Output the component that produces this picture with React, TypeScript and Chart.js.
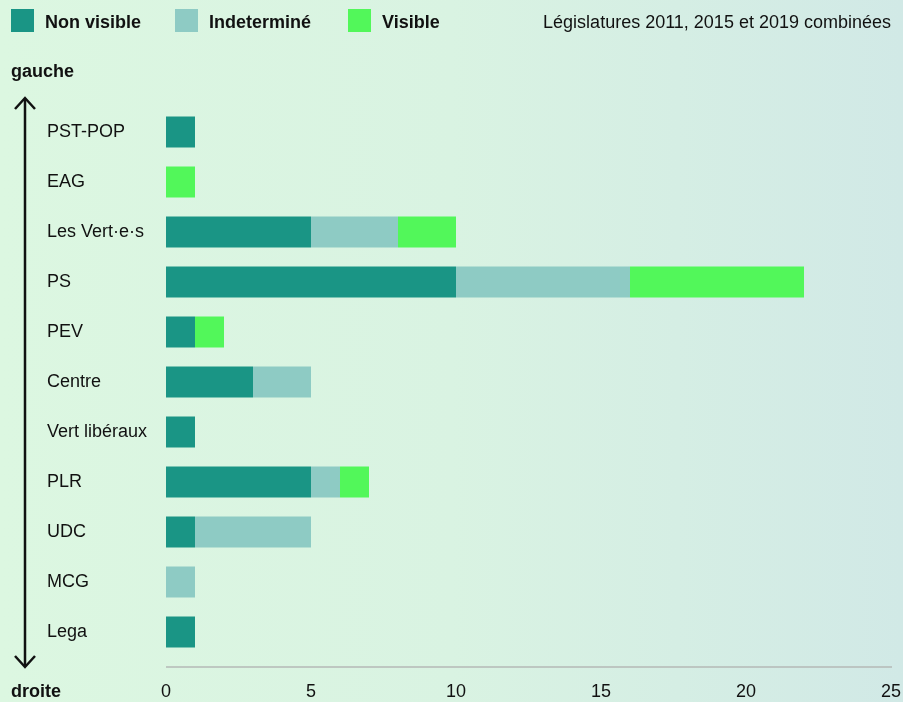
import React, { useEffect, useRef } from "react";
import { Chart, registerables } from "chart.js";

Chart.register(...registerables);

const categories = [
  "PST-POP",
  "EAG",
  "Les Vert·e·s",
  "PS",
  "PEV",
  "Centre",
  "Vert libéraux",
  "PLR",
  "UDC",
  "MCG",
  "Lega",
];
const nonVisible = [1, 0, 5, 10, 1, 3, 1, 5, 1, 0, 1];
const indetermine = [0, 0, 3, 6, 0, 2, 0, 1, 4, 1, 0];
const visible = [0, 1, 2, 6, 1, 0, 0, 1, 0, 0, 0];
const seriesNames = ["Non visible", "Indeterminé", "Visible"];
const seriesColors = ["#1a9585", "#8ecbc4", "#52f75a"];
const xTicks = [0, 5, 10, 15, 20, 25];
const titleText = "Législatures 2011, 2015 et 2019 combinées";
const topLabel = "gauche";
const bottomLabel = "droite";

const FONT = 'Helvetica, "Liberation Sans", Arial, sans-serif';
const TEXT = "#111111";

const overlay = {
  id: "overlay",
  afterDraw(chart: any) {
    const ctx = chart.ctx;
    const area = chart.chartArea;
    ctx.save();
    // legend
    const boxX = [11, 175, 348];
    ctx.font = `bold 18px ${FONT}`;
    ctx.textBaseline = "alphabetic";
    ctx.textAlign = "left";
    seriesNames.forEach((n, i) => {
      ctx.fillStyle = seriesColors[i];
      ctx.fillRect(boxX[i], 9, 23, 23);
      ctx.fillStyle = TEXT;
      ctx.fillText(n, boxX[i] + 34, 28);
    });
    // title
    ctx.font = `18px ${FONT}`;
    ctx.textAlign = "right";
    ctx.fillText(titleText, 891, 28);
    // gauche / droite
    ctx.font = `bold 18px ${FONT}`;
    ctx.textAlign = "left";
    ctx.fillText(topLabel, 11, 77);
    ctx.fillText(bottomLabel, 11, 697);
    // arrow
    ctx.strokeStyle = TEXT;
    ctx.lineWidth = 2.5;
    ctx.lineCap = "butt";
    ctx.lineJoin = "miter";
    ctx.beginPath();
    ctx.moveTo(25, 99);
    ctx.lineTo(25, 666);
    ctx.stroke();
    ctx.beginPath();
    ctx.moveTo(15, 109);
    ctx.lineTo(25, 98);
    ctx.lineTo(35, 109);
    ctx.stroke();
    ctx.beginPath();
    ctx.moveTo(15, 656);
    ctx.lineTo(25, 667);
    ctx.lineTo(35, 656);
    ctx.stroke();
    // x axis line
    ctx.strokeStyle = "#b4b8b6";
    ctx.lineWidth = 1.5;
    ctx.beginPath();
    ctx.moveTo(area.left, area.bottom + 10);
    ctx.lineTo(area.right + 1, area.bottom + 10);
    ctx.stroke();
    ctx.restore();
  },
};

export default function App() {
  const ref = useRef<HTMLCanvasElement | null>(null);
  useEffect(() => {
    if (!ref.current) return;
    const chart = new Chart(ref.current, {
      type: "bar",
      data: {
        labels: categories,
        datasets: [nonVisible, indetermine, visible].map((d, i) => ({
          label: seriesNames[i],
          data: d,
          backgroundColor: seriesColors[i],
          borderWidth: 0,
          categoryPercentage: 1,
          barPercentage: 0.62,
        })),
      },
      options: {
        indexAxis: "y",
        responsive: false,
        animation: false,
        layout: { padding: { left: 47, right: 12, top: 107, bottom: 0 } },
        plugins: {
          legend: { display: false },
          title: { display: false },
          tooltip: { enabled: false },
        },
        scales: {
          x: {
            stacked: true,
            min: 0,
            max: 25,
            grid: { display: false, drawTicks: false },
            border: { display: false },
            afterBuildTicks: (scale: any) => {
              scale.ticks = xTicks.map((v) => ({ value: v }));
            },
            afterFit: (scale: any) => {
              scale.height = 45;
              scale.paddingLeft = 0;
              scale.paddingRight = 0;
            },
            ticks: {
              padding: 24,
              color: TEXT,
              font: { family: FONT, size: 18 },
              maxRotation: 0,
            },
          },
          y: {
            stacked: true,
            grid: { display: false, drawTicks: false },
            border: { display: false },
            afterFit: (scale: any) => {
              scale.width = 119;
              scale.paddingTop = 0;
              scale.paddingBottom = 0;
            },
            ticks: {
              crossAlign: "far",
              color: TEXT,
              font: { family: FONT, size: 18 },
            },
          },
        },
      },
      plugins: [overlay],
    });
    return () => chart.destroy();
  }, []);
  return (
    <div
      style={{
        position: "absolute",
        left: 0,
        top: 0,
        width: 903,
        height: 702,
        background: "linear-gradient(to right, #dcf7e1 0%, #d9f3e2 50%, #d1e9e6 100%)",
      }}
    >
      <canvas ref={ref} width={903} height={702} style={{ display: "block" }} />
    </div>
  );
}
